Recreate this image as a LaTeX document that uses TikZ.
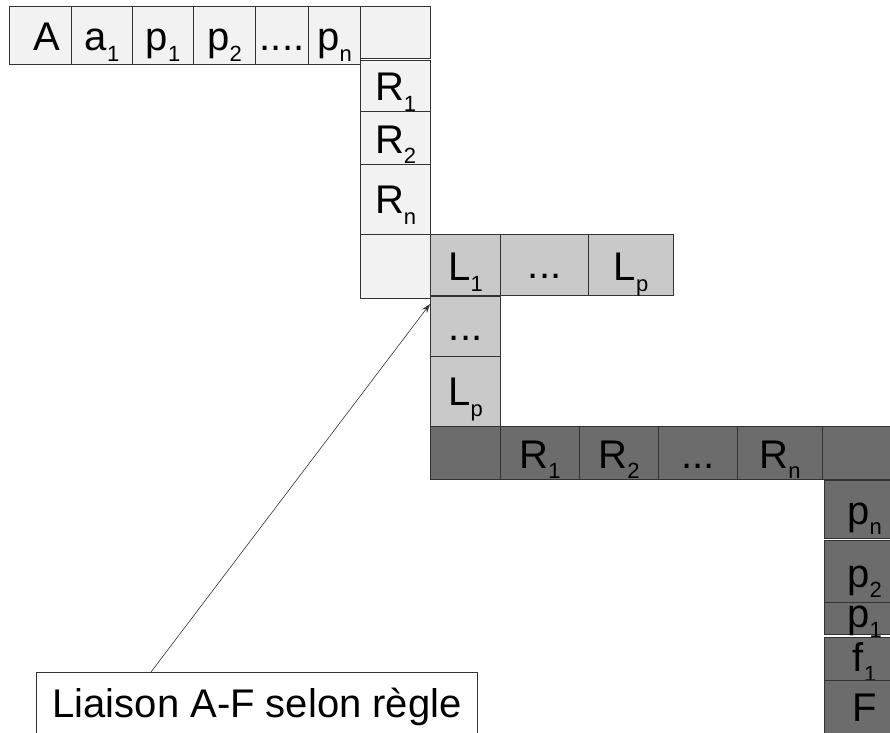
\documentclass[tikz,border=0pt]{standalone}
\usepackage{fontspec}
\setmainfont{Liberation Sans}
\usetikzlibrary{arrows.meta}
\definecolor{bord}{HTML}{333333}
\definecolor{lightc}{HTML}{F2F2F2}
\definecolor{medc}{HTML}{C9C9C9}
\definecolor{darkc}{HTML}{6C6C6C}
\newcommand{\sbs}[1]{\raisebox{-10.5pt}{\fontsize{22}{22}\selectfont #1}}
\newcommand{\cellbox}[7]{%
  \pgfmathsetmacro\cellW{#4-#2}\pgfmathsetmacro\cellH{#5-#3}%
  \node[cell,#6,minimum width=\cellW pt,minimum height=\cellH pt,anchor=north west] (#1) at (#2,#3) {#7};}
\tikzset{
  cell/.style={draw=bord, line width=1.2pt, inner sep=0pt, text height=28pt, text depth=0pt,
    font=\fontsize{40}{40}\selectfont},
  lt/.style={fill=lightc},
  md/.style={fill=medc},
  dk/.style={fill=darkc},
  labelbox/.style={cell, fill=white},
  pointer/.style={draw=bord, line width=0.6pt, -{Stealth[length=9pt,width=6pt]}}
}
\begin{document}
\begin{tikzpicture}[x=1pt,y=-1pt]
\useasboundingbox (0,0) rectangle (890,732);
\fill[white] (0,0) rectangle (890,732);
\clip (0,0) rectangle (890,732);
% top row
\cellbox{cA}{9}{6}{71}{64}{lt,text height=30pt}{\hspace{12pt}A}
\cellbox{ca1}{71}{6}{132}{64}{lt,text height=30pt}{a\sbs{1}}
\cellbox{cp1}{132}{6}{193}{64}{lt,text height=30pt}{p\sbs{1}}
\cellbox{cp2}{193}{6}{255}{64}{lt,text height=30pt}{p\sbs{2}}
\cellbox{cdt}{255}{6}{308}{64}{lt,text height=30pt}{....}
\cellbox{cpn}{308}{6}{360}{64}{lt,text height=30pt}{p\sbs{n}}
\cellbox{cTR}{360}{6}{430}{58}{lt}{}
% R column
\cellbox{cR1}{360}{60}{430}{111}{lt,text height=29pt}{R\sbs{1}}
\cellbox{cR2}{360}{111}{430}{164}{lt,text height=30pt}{R\sbs{2}}
\cellbox{cRn}{360}{164}{430}{234}{lt}{R\sbs{n}}
\cellbox{cE}{360}{234}{430}{298}{lt}{}
% L row and column
\cellbox{cL1}{430}{234}{500}{295}{md,text height=31pt}{L\sbs{1}}
\cellbox{cLd}{500}{234}{588}{295}{md,text height=27pt}{...}
\cellbox{cLp}{588}{234}{673}{295}{md,text height=31pt}{L\sbs{p}}
\cellbox{cVd}{430}{296}{500}{356}{md}{...}
\cellbox{cLq}{430}{356}{500}{426}{md}{L\sbs{p}}
% dark row
\cellbox{dA}{430}{426}{500}{479}{dk}{}
\cellbox{dR1}{500}{426}{579}{479}{dk,text height=30pt}{R\sbs{1}}
\cellbox{dR2}{579}{426}{658}{479}{dk,text height=30pt}{R\sbs{2}}
\cellbox{dDt}{658}{426}{737}{479}{dk,text height=30pt}{...}
\cellbox{dRn}{737}{426}{822}{479}{dk,text height=30pt}{R\sbs{n}}
\cellbox{dE}{822}{426}{904}{479}{dk}{}
% right column
\cellbox{fpn}{824}{480}{904}{538}{dk,text height=29pt}{p\sbs{n}}
\cellbox{fp2}{824}{540}{904}{602}{dk,text height=31pt}{p\sbs{2}}
\cellbox{fp1}{824}{602}{904}{634}{dk,text height=17pt}{p\sbs{1}}
\cellbox{ff1}{824}{637}{904}{680}{dk,text height=24pt}{f\sbs{1}}
\cellbox{fF}{824}{680}{904}{734}{dk}{F}
% label
\node[labelbox,minimum width=441pt,minimum height=62pt,anchor=north west] (lab) at (36,672) {Liaison A-F selon règle};
\coordinate (tipc) at (430,304);
\draw[pointer] ([xshift=115pt]lab.north west) -- (tipc);
\end{tikzpicture}
\end{document}
